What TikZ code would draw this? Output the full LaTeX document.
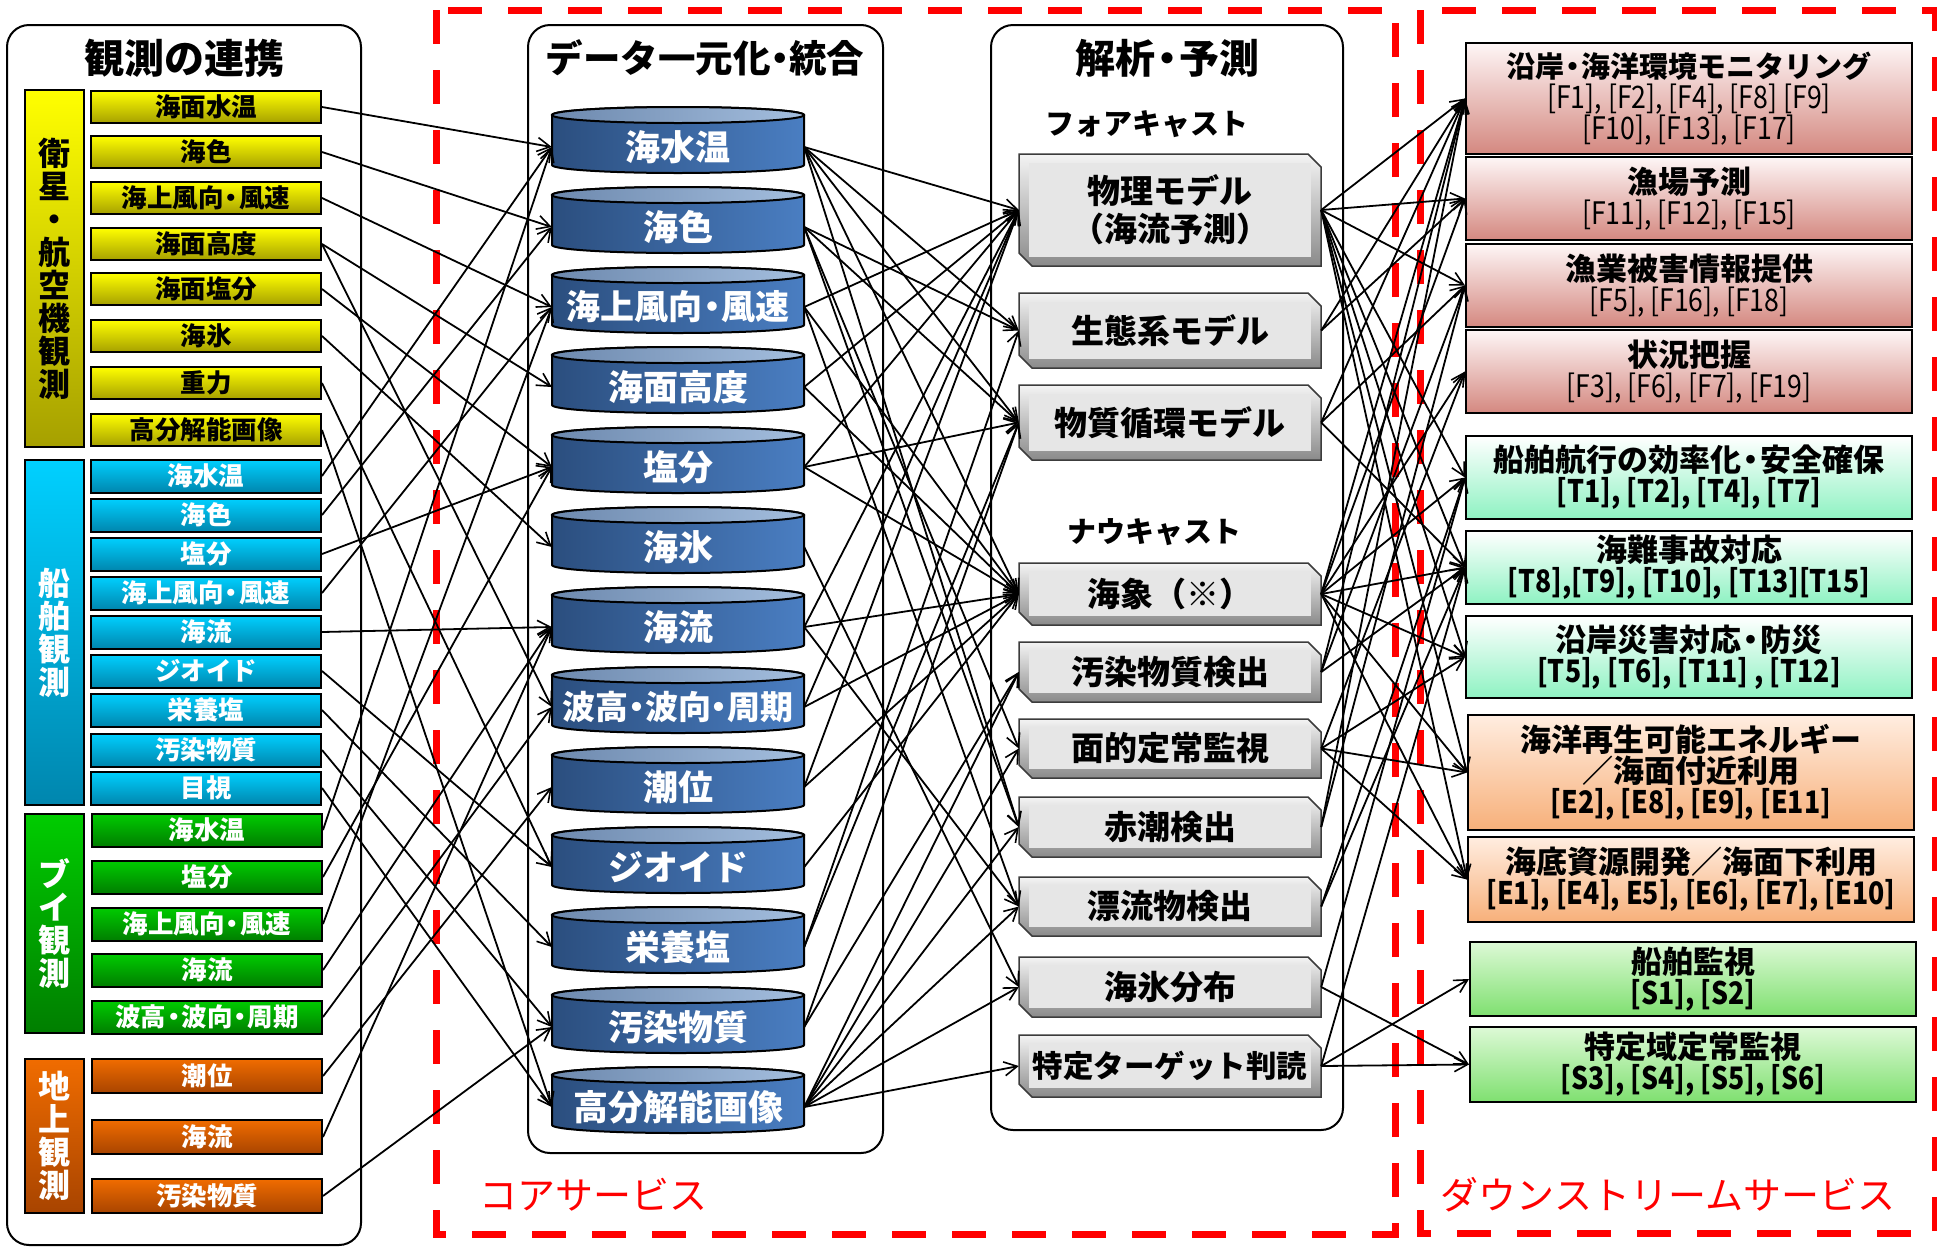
\documentclass[tikz,border=0pt]{standalone}
\usepackage{fontspec}
\usepackage{graphicx}
\setmainfont{Noto Sans CJK JP}
\usetikzlibrary{arrows.meta}
\newcommand\dt[1][0.6em]{\makebox[#1]{・}}
\newcommand\cds[1]{\scalebox{0.86}[1]{#1}}
\definecolor{satT}{HTML}{FFFF00}\definecolor{satB}{HTML}{A6A000}
\definecolor{shipT}{HTML}{00D0FF}\definecolor{shipB}{HTML}{0086AE}
\definecolor{buoyT}{HTML}{00CC00}\definecolor{buoyB}{HTML}{007E00}
\definecolor{grT}{HTML}{F06C00}\definecolor{grB}{HTML}{A84400}
\definecolor{cylL}{HTML}{2B4E7E}\definecolor{cylR}{HTML}{4A7EC2}
\definecolor{topL}{HTML}{6D89AE}\definecolor{topR}{HTML}{A4BEDE}
\definecolor{bevT}{HTML}{F4F4F4}\definecolor{bevB}{HTML}{8A8A8A}
\definecolor{bevF}{HTML}{E6E6E6}\definecolor{bevD}{HTML}{3C3C3C}
\definecolor{fT}{HTML}{FEF6F6}\definecolor{fB}{HTML}{D48880}
\definecolor{tT}{HTML}{FFFFFF}\definecolor{tB}{HTML}{8EF2C2}
\definecolor{eT}{HTML}{FFEDE0}\definecolor{eB}{HTML}{F7B07A}
\definecolor{sT}{HTML}{DDF9D6}\definecolor{sB}{HTML}{7FE070}
\definecolor{redd}{HTML}{FF0000}
\tikzset{
 grp/.style={draw=black, line width=2pt, rounded corners=22pt},
 reddash/.style={draw=redd, line width=7pt, dash pattern=on 34pt off 26pt},
 item/.style={draw=black, line width=2pt, minimum width=230pt, inner sep=0pt, font=\bfseries\fontsize{25.5}{25.5}\selectfont},
 satitem/.style={item, top color=satT, bottom color=satB, text=black},
 shipitem/.style={item, top color=shipT, bottom color=shipB, text=white},
 buoyitem/.style={item, top color=buoyT, bottom color=buoyB, text=white},
 gritem/.style={item, top color=grT, bottom color=grB, text=white},
 cat/.style={draw=black, line width=2pt, minimum width=59pt, inner sep=0pt, align=center, font=\bfseries\fontsize{32}{33}\selectfont},
 title/.style={font=\bfseries\fontsize{40}{40}\selectfont},
 sub/.style={font=\bfseries\fontsize{29}{29}\selectfont},
 cyltext/.style={text=white, minimum width=252pt, minimum height=50pt, inner sep=0pt, font=\bfseries\fontsize{35}{35}\selectfont},
 bevtext/.style={text=black, minimum width=302pt, inner sep=0pt, align=center, font=\bfseries\fontsize{33}{38}\selectfont},
 ds/.style={draw=black, line width=2pt, minimum width=446pt, inner sep=0pt, align=center, font=\bfseries\fontsize{31}{31}\selectfont},
 dsF/.style={ds, top color=fT, bottom color=fB},
 dsT/.style={ds, top color=tT, bottom color=tB},
 dsE/.style={ds, top color=eT, bottom color=eB},
 dsS/.style={ds, top color=sT, bottom color=sB},
 conn/.style={line width=1.8pt, -{Straight Barb[length=13pt,width=14pt,line width=1.6pt]}},
 redlab/.style={text=redd, font=\fontsize{38}{38}\selectfont},
}
\newcommand\cyl[3]{%
 \path[draw=black, line width=2pt, left color=cylL, right color=cylR]
   (552,#2+8) -- (552,#2+58) arc[start angle=180,end angle=0,x radius=126,y radius=8]
   -- (804,#2+8) arc[start angle=0,end angle=-180,x radius=126,y radius=8] -- cycle;
 \path[draw=black, line width=2pt, left color=topL, right color=topR] (678,#2+8) ellipse[x radius=126, y radius=8];
 \node[cyltext] (#1) at (678,#2+40) {#3};
}
\newcommand\bevel[4]{%
 \path[draw=bevD, line width=1.5pt, top color=bevT, bottom color=bevB]
   (1019,#2) -- (1308,#2) -- (1321,#2+13) -- (1321,#3) -- (1032,#3) -- (1019,#3-13) -- cycle;
 \fill[bevF] (1029,#2+9) rectangle (1311,#3-9);
 \node[bevtext, minimum height=#3-#2] (#1) at (1170,{(#2+#3)/2}) {#4};
}
\begin{document}
\begin{tikzpicture}[x=1pt,y=-1pt]
\useasboundingbox (0,0) rectangle (1937,1248);
\fill[white] (0,0) rectangle (1937,1248);
% red dashed service frames
\draw[reddash] (436,10) rectangle (1395,1234);
\draw[reddash] (1420,10) rectangle (1935,1233);
\node[redlab] (core) at (593,1195) {コアサービス};
\node[redlab] (down) at (1668,1195) {ダウンストリームサービス};
% group boxes
\draw[grp] (7,25) rectangle (361,1245);
\draw[grp] (528,25) rectangle (883,1153);
\draw[grp] (991,25) rectangle (1343,1130);
\node[title] (t1) at (184,58) {観測の連携};
\node[title, font=\bfseries\fontsize{37.5}{37.5}\selectfont] (t2) at (705,58) {データ一元化\dt[0.5em]統合};
\node[title] (t3) at (1167,58) {解析\dt 予測};
\node[sub] (fc) at (1147,124) {フォアキャスト};
\node[sub] (nc) at (1154,532) {ナウキャスト};
% categories
\node[cat, top color=satT, bottom color=satB, minimum height=357pt, text=black] (cs) at (54,268.5) {衛\\星\\・\\航\\空\\機\\観\\測};
\node[cat, top color=shipT, bottom color=shipB, minimum height=345pt, text=white] (cb) at (54,632.5) {船\\舶\\観\\測};
\node[cat, top color=buoyT, bottom color=buoyB, minimum height=219pt, text=white] (cu) at (54,923.5) {ブ\\イ\\観\\測};
\node[cat, top color=grT, bottom color=grB, minimum height=154pt, text=white] (cg) at (54,1136) {地\\上\\観\\測};
% satellite items
\node[satitem, minimum height=32pt] (s1) at (206,107) {海面水温};
\node[satitem, minimum height=32pt] (s2) at (206,152) {海色};
\node[satitem, minimum height=32pt] (s3) at (206,198) {海上風向\dt 風速};
\node[satitem, minimum height=32pt] (s4) at (206,244) {海面高度};
\node[satitem, minimum height=32pt] (s5) at (206,289) {海面塩分};
\node[satitem, minimum height=32pt] (s6) at (206,336) {海氷};
\node[satitem, minimum height=32pt] (s7) at (206,383) {重力};
\node[satitem, minimum height=32pt] (s8) at (206,430) {高分解能画像};
% ship items
\node[shipitem, minimum height=33pt] (b1) at (206,476) {海水温};
\node[shipitem, minimum height=33pt] (b2) at (206,515) {海色};
\node[shipitem, minimum height=33pt] (b3) at (206,554) {塩分};
\node[shipitem, minimum height=33pt] (b4) at (206,593) {海上風向\dt 風速};
\node[shipitem, minimum height=33pt] (b5) at (206,632) {海流};
\node[shipitem, minimum height=33pt] (b6) at (206,671) {ジオイド};
\node[shipitem, minimum height=33pt] (b7) at (206,710) {栄養塩};
\node[shipitem, minimum height=33pt] (b8) at (206,750) {汚染物質};
\node[shipitem, minimum height=33pt] (b9) at (206,788) {目視};
% buoy items
\node[buoyitem, minimum height=33pt] (c1) at (207,830) {海水温};
\node[buoyitem, minimum height=33pt] (c2) at (207,877) {塩分};
\node[buoyitem, minimum height=33pt] (c3) at (207,924) {海上風向\dt 風速};
\node[buoyitem, minimum height=33pt] (c4) at (207,970) {海流};
\node[buoyitem, minimum height=33pt] (c5) at (207,1017) {波高\dt 波向\dt 周期};
% ground items
\node[gritem, minimum height=34pt] (g1) at (207,1076) {潮位};
\node[gritem, minimum height=34pt] (g2) at (207,1137) {海流};
\node[gritem, minimum height=34pt] (g3) at (207,1196) {汚染物質};
% data cylinders
\cyl{d1}{107}{海水温}
\cyl{d2}{187}{海色}
\cyl{d3}{267}{\fontsize{34}{34}\selectfont 海上風向\dt[0.55em]風速}
\cyl{d4}{347}{海面高度}
\cyl{d5}{427}{塩分}
\cyl{d6}{507}{海氷}
\cyl{d7}{587}{海流}
\cyl{d8}{667}{\fontsize{33}{33}\selectfont 波高\dt[0.5em]波向\dt[0.5em]周期}
\cyl{d9}{747}{潮位}
\cyl{d10}{827}{ジオイド}
\cyl{d11}{907}{栄養塩}
\cyl{d12}{987}{汚染物質}
\cyl{d13}{1067}{高分解能画像}
% analysis boxes
\bevel{A1}{154}{266}{物理モデル\\（海流予測）}
\bevel{A2}{293}{368}{生態系モデル}
\bevel{A3}{385}{460}{物質循環モデル}
\bevel{A4}{563}{625}{海象（※）}
\bevel{A5}{642}{702}{汚染物質検出}
\bevel{A6}{719}{778}{面的定常監視}
\bevel{A7}{797}{857}{赤潮検出}
\bevel{A8}{877}{936}{漂流物検出}
\bevel{A9}{957}{1017}{海氷分布}
\bevel{A10}{1035}{1097}{\fontsize{30.5}{30.5}\selectfont 特定ターゲット判読}
% downstream boxes
\node[dsF, minimum height=111pt] (R1) at (1689,98.5) {{\fontsize{29}{31}\selectfont 沿岸\dt 海洋環境モニタリング}\\\mdseries\cds{[F1], [F2], [F4], [F8] [F9]}\\\mdseries\cds{[F10], [F13], [F17]}};
\node[dsF, minimum height=83pt] (R2) at (1689,198.5) {漁場予測\\\mdseries\cds{[F11], [F12], [F15]}};
\node[dsF, minimum height=83pt] (R3) at (1689,285.5) {漁業被害情報提供\\\mdseries\cds{[F5], [F16], [F18]}};
\node[dsF, minimum height=83pt] (R4) at (1689,371.5) {状況把握\\\mdseries\cds{[F3], [F6], [F7], [F19]}};
\node[dsT, minimum height=83pt] (R5) at (1689,477.5) {船舶航行の効率化\dt 安全確保\\\cds{[T1], [T2], [T4], [T7]}};
\node[dsT, minimum height=73pt] (R6) at (1689,567.5) {海難事故対応\\\cds{[T8],[T9], [T10], [T13][T15]}};
\node[dsT, minimum height=82pt] (R7) at (1689,657) {沿岸災害対応\dt 防災\\\cds{[T5], [T6], [T11] , [T12]}};
\node[dsE, minimum height=115pt] (R8) at (1691,772.5) {海洋再生可能エネルギー\\／海面付近利用\\\cds{[E2], [E8], [E9], [E11]}};
\node[dsE, minimum height=85pt] (R9) at (1691,879.5) {海底資源開発／海面下利用\\\cds{[E1], [E4], E5], [E6], [E7], [E10]}};
\node[dsS, minimum height=74pt] (R10) at (1693,979) {船舶監視\\\cds{[S1], [S2]}};
\node[dsS, minimum height=75pt] (R11) at (1693,1064.5) {特定域定常監視\\\cds{[S3], [S4], [S5], [S6]}};
% connectors: observation -> data
\foreach \a/\b in {s1/d1, s2/d2, s3/d3, s4/d4, s4/d8, s5/d5, s6/d6, s7/d10, s8/d13,
  b1/d1, b2/d2, b3/d5, b4/d3, b5/d7, b6/d10, b7/d11, b8/d12, b9/d13,
  c1/d1, c2/d5, c3/d3, c4/d7, c5/d8, g1/d9, g2/d7, g3/d12}
  \draw[conn] (\a.east) -- (\b.west);
% data -> analysis
\foreach \a/\b in {d1/A1, d1/A2, d1/A3, d1/A4, d1/A7, d2/A2, d2/A3, d2/A6, d2/A7,
  d3/A1, d3/A4, d3/A8, d4/A1, d4/A4, d5/A1, d5/A3, d5/A4, d6/A9, d7/A1, d7/A4, d7/A8,
  d8/A1, d8/A4, d9/A1, d9/A4, d10/A4, d11/A2, d11/A3, d12/A3, d12/A5,
  d13/A5, d13/A6, d13/A7, d13/A8, d13/A9, d13/A10}
  \draw[conn] (\a.east) -- (\b.west);
% analysis -> downstream
\foreach \a/\b in {A1/R1, A1/R2, A1/R3, A1/R5, A1/R6, A1/R7, A1/R8, A1/R9,
  A2/R1, A2/R2, A3/R1, A3/R3, A3/R6,
  A4/R1, A4/R2, A4/R4, A4/R5, A4/R6, A4/R7, A4/R8, A4/R9,
  A5/R1, A5/R3, A5/R6, A6/R4, A6/R7, A6/R8, A6/R9, A7/R1, A7/R3,
  A8/R5, A8/R6, A9/R5, A9/R11, A10/R6, A10/R10, A10/R11}
  \draw[conn] (\a.east) -- (\b.west);
\end{tikzpicture}
\end{document}
